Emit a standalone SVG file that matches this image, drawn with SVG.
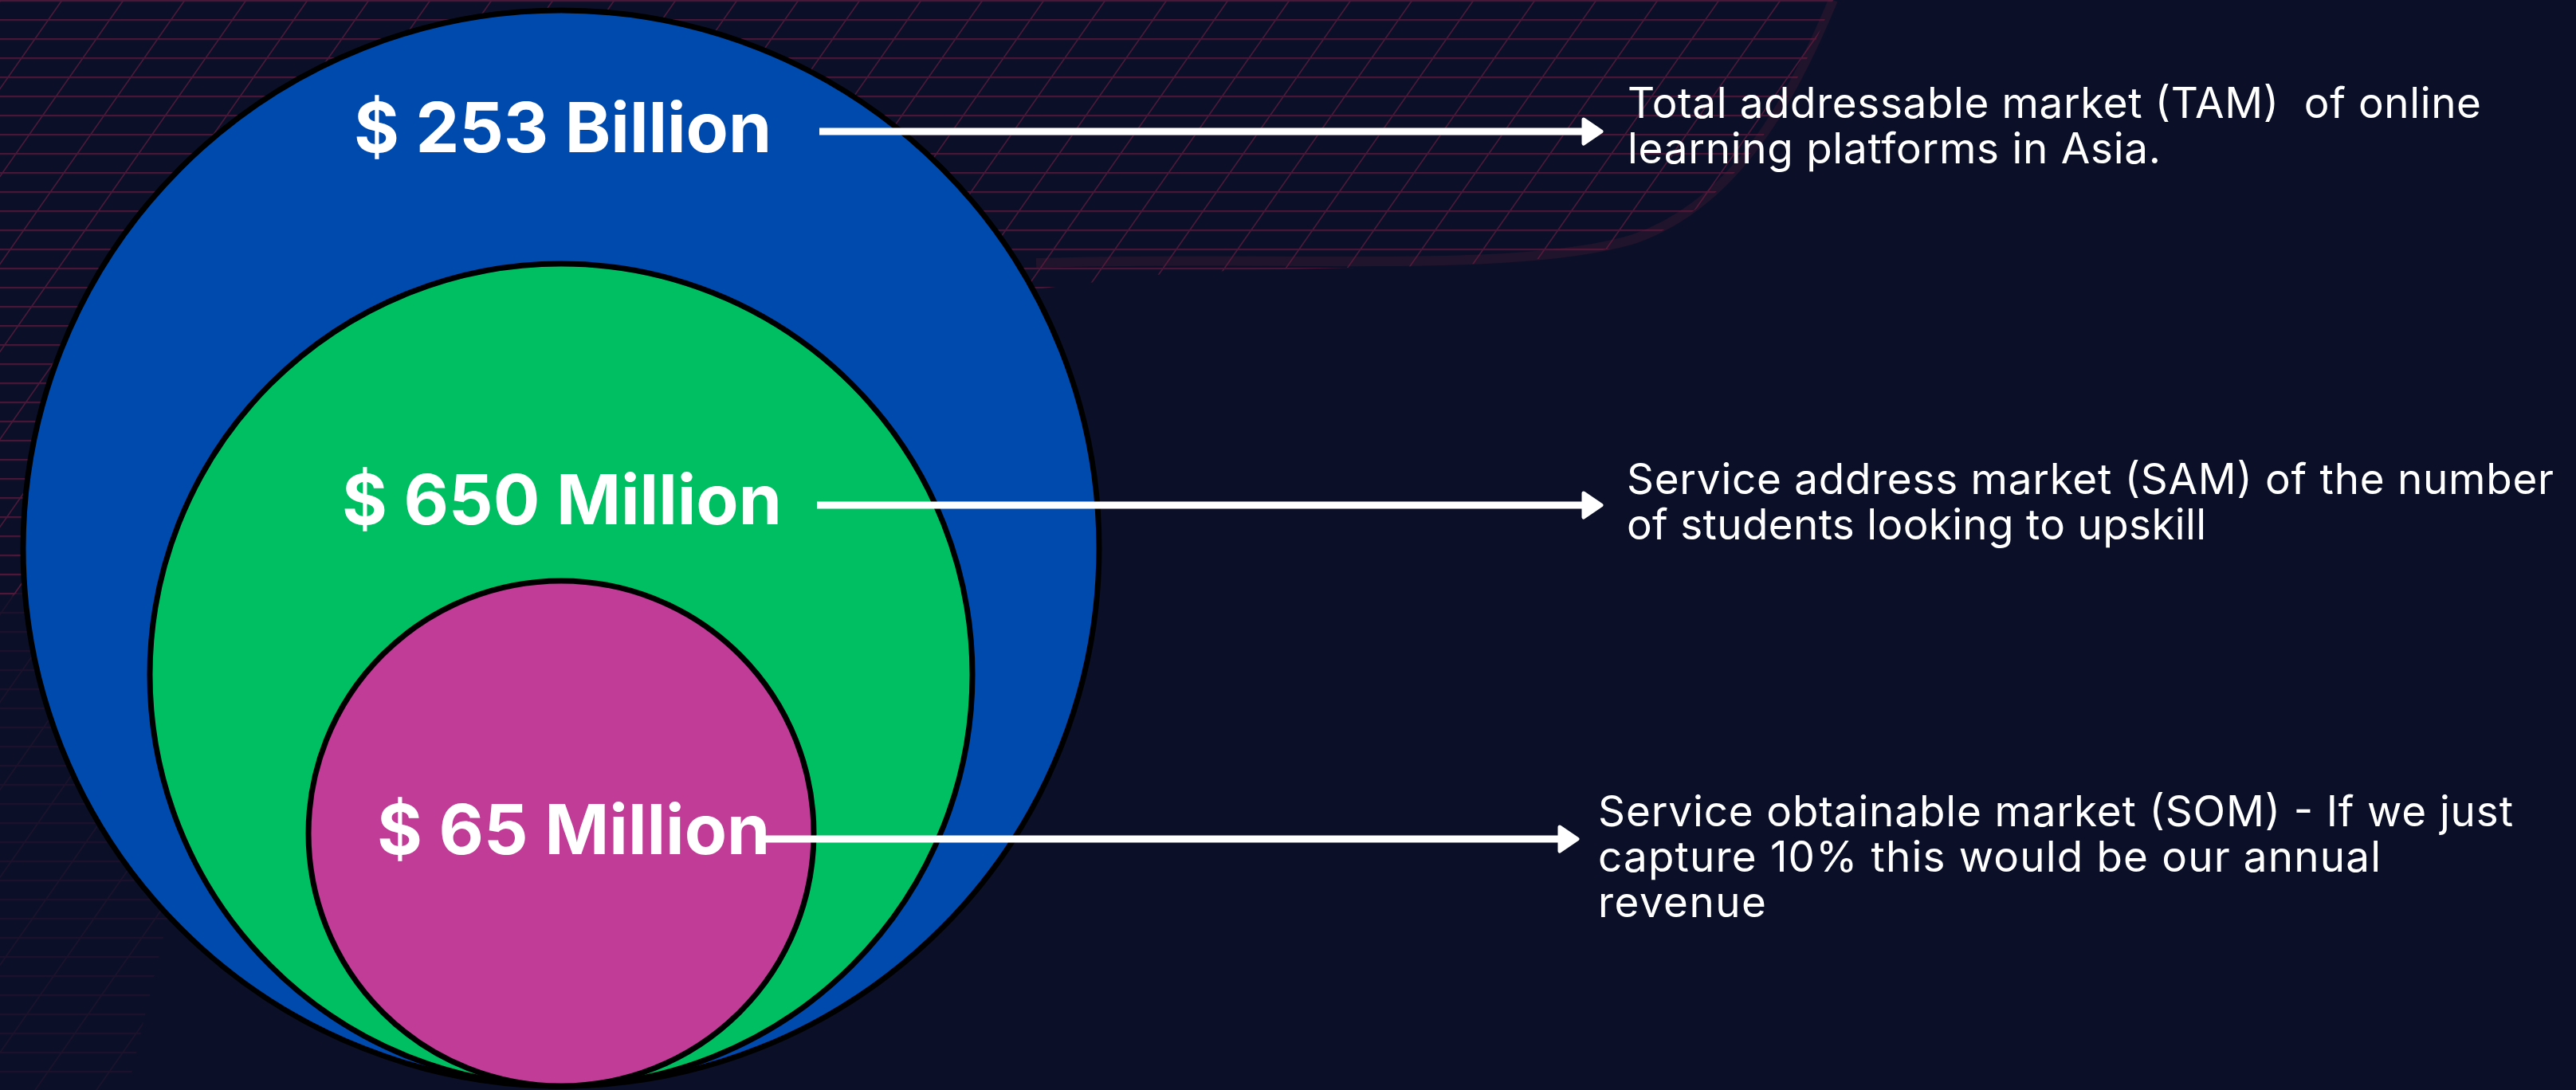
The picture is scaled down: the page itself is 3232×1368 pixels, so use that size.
<svg xmlns="http://www.w3.org/2000/svg" width="3232" height="1368" viewBox="0 0 3232 1368">
  <style>
    .ring { stroke: #000000; stroke-width: 7; }
    .label { font-family: Inter, "Liberation Sans", Arial, sans-serif; font-weight: 700; font-size: 87px; fill: #ffffff; }
    .desc { font-family: Inter, "Noto Sans", "Liberation Sans", sans-serif; font-weight: 400; font-size: 53px; fill: #ffffff; white-space: pre; }
    .conn { stroke: #ffffff; stroke-width: 9; fill: none; }
    .head { fill: #ffffff; stroke: #ffffff; stroke-width: 5; stroke-linejoin: round; }
  </style>
  <defs>
    <pattern id="mesh" width="77" height="24" patternUnits="userSpaceOnUse" patternTransform="skewX(-35)">
      <path d="M0,1 H77 M1,0 V24" stroke="#7d1f45" stroke-width="2" fill="none"/>
    </pattern>
    <clipPath id="meshTop">
      <path d="M0,0 H2300 C2250,120 2180,260 2050,305 C1900,345 1650,330 1450,345 C1000,400 400,450 0,760 Z"/>
    </clipPath>
    <clipPath id="meshLeft">
      <path d="M0,700 L330,640 L160,1368 L0,1368 Z"/>
    </clipPath>
  </defs>

  <rect x="0" y="0" width="3232" height="1368" fill="#0b1028"/>

  <g id="background-mesh">
    <rect x="0" y="0" width="2400" height="800" fill="url(#mesh)" clip-path="url(#meshTop)" opacity="0.55"/>
    <rect x="0" y="600" width="400" height="768" fill="url(#mesh)" clip-path="url(#meshLeft)" opacity="0.15"/>
    <path d="M1300,330 C1600,320 1900,345 2050,300 C2180,255 2250,120 2300,0" fill="none" stroke="#7d1f45" stroke-width="12" opacity="0.18"/>
  </g>

  <g id="tam-circle">
    <circle class="ring" cx="704" cy="688" r="675" fill="#004aad"/>
    <text class="label" x="444" y="191">$ 253 Billion</text>
  </g>
  <g id="sam-circle">
    <circle class="ring" cx="704" cy="847" r="516" fill="#00bf63"/>
    <text class="label" x="429" y="658">$ 650 Million</text>
  </g>
  <g id="som-circle">
    <circle class="ring" cx="704" cy="1046" r="317" fill="#c13c96"/>
    <text class="label" x="473" y="1072">$ 65 Million</text>
  </g>

  <g id="connectors">
    <line class="conn" x1="1028" y1="165" x2="1992" y2="165"/>
    <path class="head" d="M1987,150 L2009,165 L1987,180 Z"/>
    <line class="conn" x1="1025" y1="634" x2="1992" y2="634"/>
    <path class="head" d="M1987,619 L2009,634 L1987,649 Z"/>
    <line class="conn" x1="955" y1="1053" x2="1962" y2="1053"/>
    <path class="head" d="M1957,1038 L1979,1053 L1957,1068 Z"/>
  </g>

  <g id="tam-text">
    <text class="desc" x="2042" y="148" textLength="1071">Total addressable market (TAM)  of online</text>
    <text class="desc" x="2042" y="205" textLength="669">learning platforms in Asia.</text>
  </g>
  <g id="sam-text">
    <text class="desc" x="2041" y="620" textLength="1163">Service address market (SAM) of the number</text>
    <text class="desc" x="2041" y="677" textLength="727">of students looking to upskill</text>
  </g>
  <g id="som-text">
    <text class="desc" x="2005" y="1037" textLength="1148">Service obtainable market (SOM) - If we just</text>
    <text class="desc" x="2005" y="1094" textLength="982">capture 10% this would be our annual</text>
    <text class="desc" x="2005" y="1151" textLength="211">revenue</text>
  </g>
</svg>
